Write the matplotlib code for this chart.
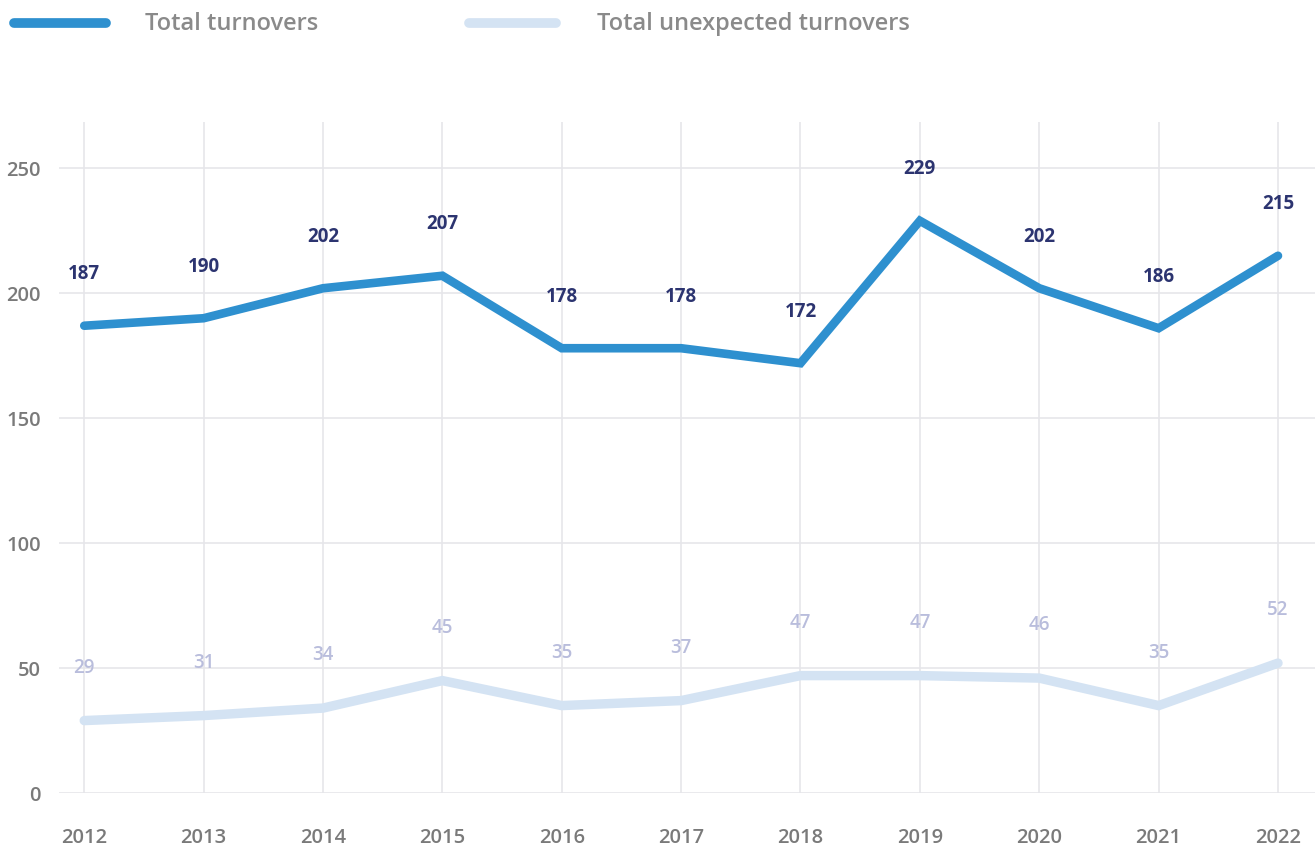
import matplotlib.pyplot as plt
from matplotlib.lines import Line2D

years = [2012, 2013, 2014, 2015, 2016, 2017, 2018, 2019, 2020, 2021, 2022]
total = [187, 190, 202, 207, 178, 178, 172, 229, 202, 186, 215]
unexpected = [29, 31, 34, 45, 35, 37, 47, 47, 46, 35, 52]
y_ticks = [0, 50, 100, 150, 200, 250]

blue = '#2e90cf'
light = '#d4e3f3'
navy = '#2c3470'
lavender = '#b9bddc'
grey = '#7a7a7a'

plt.rcParams['font.family'] = ['Open Sans', 'DejaVu Sans']

fig = plt.figure(figsize=(13.15, 8.5), dpi=100)
ax = fig.add_axes([0.045, 0.067, 0.955, 0.7894])

ax.plot(years, unexpected, color=light, lw=6.8, solid_capstyle='round', solid_joinstyle='miter', zorder=3)
ax.plot(years, total, color=blue, lw=6.2, solid_capstyle='round', solid_joinstyle='miter', zorder=4)

for x, v in zip(years, total):
    ax.annotate(str(v), (x, v), xytext=(0, 37), textcoords='offset points',
                ha='center', va='center', fontsize=13.5, fontweight='bold', color=navy)
for x, v in zip(years, unexpected):
    ax.annotate(str(v), (x, v), xytext=(0, 38), textcoords='offset points',
                ha='center', va='center', fontsize=13.5, fontweight='semibold', color=lavender)

ax.set_xlim(2011.79, 2022.31)
ax.set_ylim(0, 268.5)
ax.set_xticks(years)
ax.set_yticks(y_ticks)
ax.grid(True, color='#e6e6ea', lw=1.2)
ax.set_axisbelow(True)
for s in ax.spines.values():
    s.set_visible(False)
ax.tick_params(length=0, labelsize=14.5, labelcolor=grey)
ax.tick_params(axis='x', pad=25)
ax.tick_params(axis='y', pad=13)
for lab in ax.get_xticklabels() + ax.get_yticklabels():
    lab.set_fontweight('semibold')

# legend drawn by hand at the top
fig.add_artist(Line2D([14 / 1315, 106 / 1315], [1 - 23 / 850] * 2, color=blue, lw=7,
                      solid_capstyle='round'))
fig.text(145 / 1315, 1 - 24 / 850, 'Total turnovers', fontsize=17, fontweight='semibold',
         color='#8a8a8a', va='center')
fig.add_artist(Line2D([469 / 1315, 556 / 1315], [1 - 23 / 850] * 2, color=light, lw=7,
                      solid_capstyle='round'))
fig.text(597 / 1315, 1 - 24 / 850, 'Total unexpected turnovers', fontsize=17, fontweight='semibold',
         color='#8a8a8a', va='center')

fig.savefig('out.png', dpi=100)
